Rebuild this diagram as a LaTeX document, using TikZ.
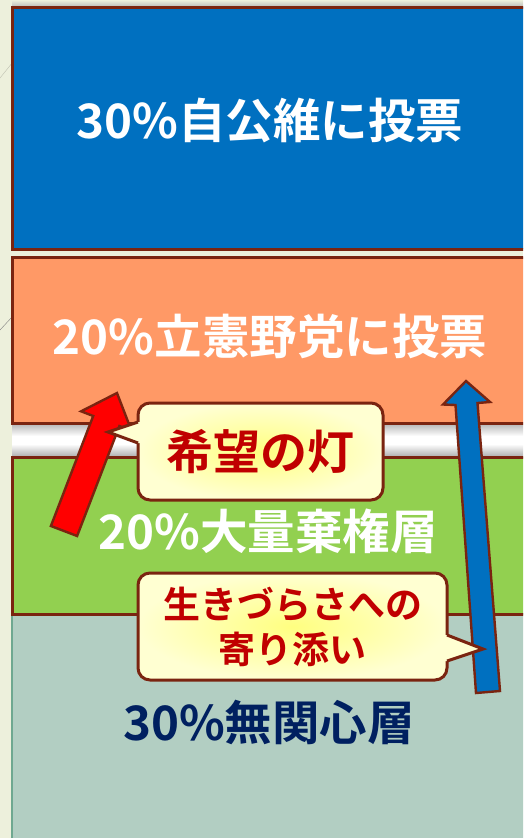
\documentclass[tikz,border=0pt]{standalone}
\usepackage{fontspec}
\newfontfamily\jpfont{Noto Sans CJK JP Bold}
\usetikzlibrary{calc}
\definecolor{paper}{HTML}{EDF0DC}
\definecolor{rim}{HTML}{7A2410}
\definecolor{rulingblue}{HTML}{0070C0}
\definecolor{oppoorange}{HTML}{FF9966}
\definecolor{abstgreen}{HTML}{92D050}
\definecolor{apathygrey}{HTML}{B2CEC2}
\definecolor{apathyrim}{HTML}{6FA890}
\definecolor{navy}{HTML}{002060}
\definecolor{hintred}{HTML}{C00000}
\definecolor{notein}{HTML}{FFFF80}
\definecolor{noteout}{HTML}{FFFFD2}
\tikzset{
  layer/.style={draw=rim,line width=3pt},
  bigtext/.style={font=\jpfont\fontsize{47.5}{47.5}\selectfont},
  notebox/.style={draw=rim,line width=3pt,rounded corners=12pt,inner color=notein,outer color=noteout,outer sep=0pt,text=hintred,inner sep=0pt},
  blockarrow/.style={draw=rim,line width=2.4pt,line join=miter},
}
\begin{document}
\begin{tikzpicture}[x=1pt,y=-1pt]
\useasboundingbox (0,0) rectangle (523,838);
\clip (0,0) rectangle (523,838);
\fill[paper] (0,0) rectangle (523,838);
\draw[paper!80!black] (0,78) -- (63,0);
\draw[gray] (0,330) -- (12,317);
% shadows
\shade[top color=paper,bottom color=gray!55] (12,0) rectangle (530,7);
\shade[top color=gray!60,bottom color=white] (12,423) rectangle (530,436);
\fill[white] (12,436) rectangle (530,444);
\shade[top color=white,bottom color=gray!65] (12,444) rectangle (530,457);
% layers
\draw[layer,fill=rulingblue] (12,7) rectangle (540,249);
\draw[layer,fill=oppoorange] (12,257) rectangle (540,423);
\draw[draw=apathyrim,line width=1.5pt,fill=apathygrey] (12,614) rectangle (540,850);
\draw[layer,fill=abstgreen] (12,457) rectangle (540,614);
\node[bigtext,white] (ruling) at (270,121) {30\%自公維に投票};
\node[bigtext,white] (oppo) at (270,336) {20\%立憲野党に投票};
\node[bigtext,white] (abst) at (268,531) {20\%大量棄権層};
\node[bigtext,navy] (apathy) at (269,722) {30\%無関心層};
% arrows
\draw[blockarrow,fill=red] (117,393) -- (131.5,430.7) -- (119.4,426) -- (77.1,536) -- (50.9,526) -- (93.2,416) -- (81.1,411.3) -- cycle;
\draw[blockarrow,fill=rulingblue] (466,381) -- (490,402) -- (477.5,403) -- (500,691) -- (476,693) -- (455.5,405) -- (443,404.5) -- cycle;
% callouts
\node[notebox,minimum width=245pt,minimum height=97pt,font=\jpfont\fontsize{47}{47}\selectfont] (hope) at (260.5,451.5) {希望の灯};
\coordinate (hopetip) at (108,432);
\fill[noteout] ($(hope.west)+(3.5,-29.5)$) -- ($(hope.west)+(0,-29.5)$) -- (hopetip) -- ($(hope.west)+(0,-8.5)$) -- ($(hope.west)+(3.5,-8.5)$) -- cycle;
\draw[rim,line width=3pt,line join=miter] ($(hope.west)+(0,-29.5)$) -- (hopetip) -- ($(hope.west)+(0,-8.5)$);
\node[notebox,minimum width=309pt,minimum height=107pt,align=center,font=\jpfont\fontsize{37}{45}\selectfont] (care) at (292.5,626.5) {生きづらさへの\\寄り添い};
\coordinate (caretip) at (483,649);
\fill[noteout] ($(care.east)+(-3.5,8.5)$) -- ($(care.east)+(0,8.5)$) -- (caretip) -- ($(care.east)+(0,34.5)$) -- ($(care.east)+(-3.5,34.5)$) -- cycle;
\draw[rim,line width=3pt,line join=miter] ($(care.east)+(0,8.5)$) -- (caretip) -- ($(care.east)+(0,34.5)$);
\end{tikzpicture}
\end{document}
